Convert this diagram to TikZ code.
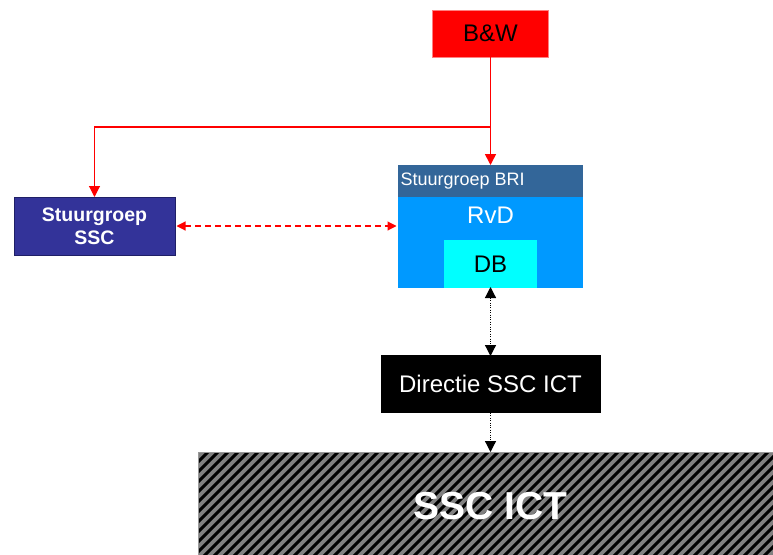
\documentclass[tikz,border=0pt]{standalone}
\usepackage{fontspec}
\setmainfont{Liberation Sans}
\usetikzlibrary{arrows.meta}
\definecolor{bwred}{HTML}{FF0000}
\definecolor{bwedge}{HTML}{FF8080}
\definecolor{sscblue}{HTML}{333399}
\definecolor{sscedge}{HTML}{1F1F66}
\definecolor{brihead}{HTML}{336699}
\definecolor{rvdblue}{HTML}{0099FF}
\definecolor{dbcyan}{HTML}{00FFFF}
\definecolor{hatchbg}{HTML}{808080}
\definecolor{hatchedge}{HTML}{999999}
\begin{document}
\begin{tikzpicture}[x=1pt,y=-1pt,
  box/.style={rectangle,inner sep=0pt,outer sep=0pt},
  big/.style={font=\fontsize{24}{28}\selectfont},
  redline/.style={draw=bwred,line width=1.6pt},
  redtip/.style={-{Triangle[length=11pt,width=11pt]}},
  dashtip/.style={{Triangle[length=9pt,width=9pt]}-{Triangle[length=9pt,width=9pt]}},
  dotline/.style={draw=black,line width=1.2pt,dash pattern=on 1pt off 1.4pt},
  dottip/.style={{Triangle[length=11pt,width=11pt]}-{Triangle[length=11pt,width=11pt]}},
  dottipone/.style={-{Triangle[length=11pt,width=11pt]}}
]
\useasboundingbox (0,0) rectangle (773,554);

% top: B&W
\node[box,fill=bwred,draw=bwedge,line width=0.8pt,minimum width=116pt,minimum height=47pt,big]
  (bw) at (490.5,33.5) {B\&W};

% steering group SSC
\node[box,fill=sscblue,draw=sscedge,line width=1pt,minimum width=161pt,minimum height=58pt,
  text=white,align=center,font=\fontsize{19.5}{23}\selectfont\bfseries]
  (ssc) at (94.5,226) {Stuurgroep\\SSC};

% steering group BRI with RvD and DB
\node[box,fill=brihead,minimum width=185pt,minimum height=32pt] (hdr) at (490.5,181) {};
\node[anchor=base west,inner sep=0pt,text=white,font=\fontsize{18}{21}\selectfont]
  (hdrtext) at (400.5,185.5) {Stuurgroep BRI};
\node[box,fill=rvdblue,minimum width=185pt,minimum height=91pt] (rvd) at (490.5,242.5) {};
\node[anchor=base,inner sep=0pt,text=white,big] (rvdtext) at (490.5,223) {RvD};
\node[box,fill=dbcyan,minimum width=93pt,minimum height=48pt,big] (db) at (490.5,264) {DB};

% management
\node[box,fill=black,text=white,minimum width=220pt,minimum height=58pt,big]
  (dir) at (490.5,384) {Directie SSC ICT};

% hatched SSC ICT block
\node[box,draw=hatchedge,line width=1pt,minimum width=590pt,minimum height=110pt,
  path picture={
    \fill[hatchbg] (path picture bounding box.south west) rectangle (path picture bounding box.north east);
    \foreach \k in {-16,...,62}
      \draw[black,line width=3pt] ([xshift=\k*10pt]path picture bounding box.south west) -- ++(150,-150);
  }]
  (ict) at (493,507) {};
\node[anchor=base,inner sep=0pt,text=white,font=\fontsize{39}{44}\selectfont\bfseries]
  (icttext) at (490.5,519.5) {SSC ICT};

% connectors
\coordinate (split) at (490.5,127);
\draw[redline,redtip] (bw.south) -- (hdr.north);
\draw[redline,line width=1.1pt,redtip] (split) -| (ssc.north);
\draw[redline,line width=1.1pt,dash pattern=on 6pt off 4pt,dashtip]
  ([xshift=1.5pt]ssc.east) -- ([xshift=-1.5pt]ssc.east -| rvd.west);
\draw[dotline,dottip] ([yshift=1pt]db.south) -- ([yshift=-1pt]dir.north);
\draw[dotline,dottipone] (dir.south) -- (dir.south |- ict.north);
\end{tikzpicture}
\end{document}
